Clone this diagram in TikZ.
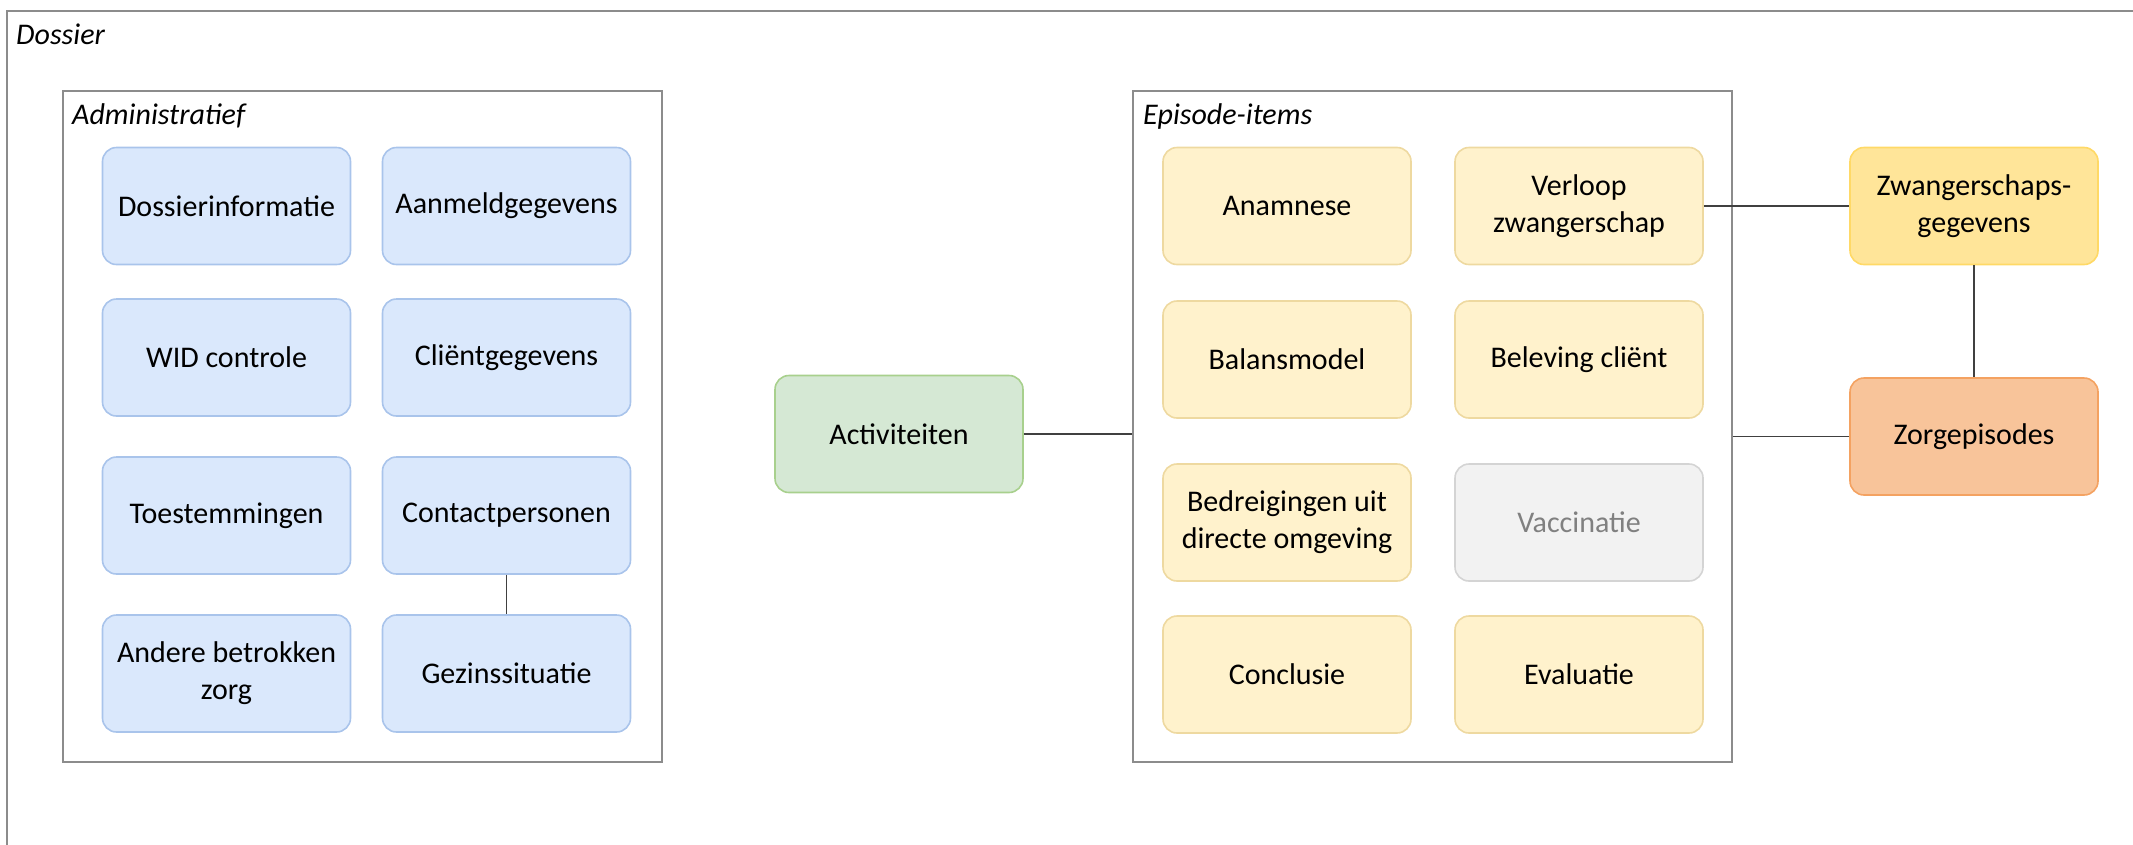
\documentclass[tikz,border=0pt]{standalone}
\usepackage{fontspec}
\setmainfont{Carlito}
\definecolor{bluefill}{HTML}{DAE8FC}
\definecolor{bluedraw}{HTML}{A9C4EB}
\definecolor{yelfill}{HTML}{FFF2CC}
\definecolor{yeldraw}{HTML}{EED9A0}
\definecolor{grnfill}{HTML}{D5E8D4}
\definecolor{grndraw}{HTML}{A8D08D}
\definecolor{greyfill}{HTML}{F2F2F2}
\definecolor{greydraw}{HTML}{D4D4D4}
\definecolor{greytext}{HTML}{808080}
\definecolor{zwfill}{HTML}{FFE599}
\definecolor{zwdraw}{HTML}{FFD966}
\definecolor{orfill}{HTML}{F8C49A}
\definecolor{ordraw}{HTML}{F4A261}
\definecolor{framecol}{HTML}{8C8C8C}
\definecolor{linecol}{HTML}{404040}
\tikzset{
  item/.style={rectangle, rounded corners=14pt, line width=1.6pt, align=center,
    minimum width=248pt, minimum height=117pt, inner sep=0pt,
    font=\fontsize{30}{37}\selectfont, text=black},
  bluebox/.style={item, fill=bluefill, draw=bluedraw},
  yelbox/.style={item, fill=yelfill, draw=yeldraw},
  grnbox/.style={item, fill=grnfill, draw=grndraw},
  greybox/.style={item, fill=greyfill, draw=greydraw, text=greytext},
  zwbox/.style={item, fill=zwfill, draw=zwdraw},
  orbox/.style={item, fill=orfill, draw=ordraw},
  container/.style={rectangle, draw=framecol, line width=1.8pt, inner sep=0pt},
  caption/.style={anchor=west, inner sep=0pt, font=\fontsize{30}{36}\selectfont\itshape},
  conn/.style={draw=linecol, line width=1.6pt}
}
\begin{document}
\begin{tikzpicture}[x=1pt, y=-1pt]
\useasboundingbox (0,0) rectangle (2133,844);
\begin{scope}
\clip (0,0) rectangle (2133,844);
\draw[framecol, line width=1.8pt] (7,11) rectangle (2300,1000);
\end{scope}
\node[caption] (dossierlbl) at (16,34) {Dossier};

% Administratief
\node[container, minimum width=599pt, minimum height=671pt] (admin) at (362.5,426.5) {};
\node[caption] (adminlbl) at (72,116) {Administratief};
\node[bluebox] (dossinfo) at (226.5,206) {Dossierinformatie};
\node[bluebox] (aanmeld) at (506.5,206) {Aanmeldgegevens};
\node[bluebox] (wid) at (226.5,357.5) {WID controle};
\node[bluebox] (client) at (506.5,357.5) {Cliëntgegevens};
\node[bluebox] (toest) at (226.5,515.5) {Toestemmingen};
\node[bluebox] (contact) at (506.5,515.5) {Contactpersonen};
\node[bluebox] (andere) at (226.5,673.5) {Andere betrokken\\zorg};
\node[bluebox] (gezin) at (506.5,673.5) {Gezinssituatie};
\draw[conn] (contact.south) -- (gezin.north);

% Activiteiten
\node[grnbox] (activ) at (899,434) {Activiteiten};

% Episode-items
\node[container, minimum width=599pt, minimum height=671pt] (episode) at (1432.5,426.5) {};
\node[caption] (episodelbl) at (1143,116) {Episode-items};
\node[yelbox] (anamnese) at (1287,206) {Anamnese};
\node[yelbox] (verloop) at (1579,206) {Verloop\\zwangerschap};
\node[yelbox] (balans) at (1287,359.5) {Balansmodel};
\node[yelbox] (beleving) at (1579,359.5) {Beleving cliënt};
\node[yelbox] (bedreig) at (1287,522.5) {Bedreigingen uit\\directe omgeving};
\node[greybox] (vacc) at (1579,522.5) {Vaccinatie};
\node[yelbox] (conclusie) at (1287,674.5) {Conclusie};
\node[yelbox] (evaluatie) at (1579,674.5) {Evaluatie};

% Right side
\node[zwbox] (zwanger) at (1974,206) {Zwangerschaps-\\gegevens};
\node[orbox] (zorg) at (1974,436.5) {Zorgepisodes};

\draw[conn] (activ.east) -- (activ.east -| episode.west);
\draw[conn] (verloop.east) -- (zwanger.west);
\draw[conn] (zwanger.south) -- (zorg.north);
\draw[conn] (zorg.west -| episode.east) -- (zorg.west);
\end{tikzpicture}
\end{document}
